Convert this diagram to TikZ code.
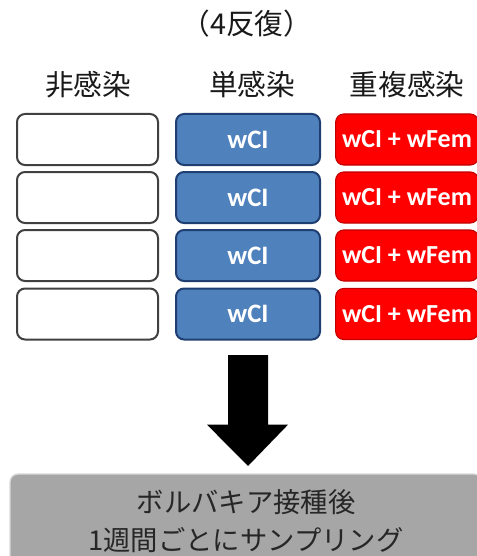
\documentclass[tikz,border=0pt]{standalone}
\usepackage{fontspec}
\newfontfamily\jp{Noto Sans CJK JP}
\newfontfamily\lat{Carlito}
\definecolor{blueF}{HTML}{4F81BD}
\definecolor{blueD}{HTML}{1F3F73}
\definecolor{redF}{HTML}{FF0000}
\definecolor{redD}{HTML}{C00000}
\definecolor{grayF}{HTML}{A6A6A6}
\definecolor{grayD}{HTML}{404040}
\begin{document}
\begin{tikzpicture}[x=0.75pt,y=-0.75pt,
  cell/.style={rounded corners=6pt, minimum height=38.25pt, inner sep=0pt, line width=1.5pt},
  nonebox/.style={cell, draw=grayD, fill=white, minimum width=105.75pt},
  singlebox/.style={cell, draw=blueD, fill=blueF, minimum width=108pt, text=white, font=\lat\bfseries\fontsize{20}{24}\selectfont},
  doublebox/.style={cell, draw=redD, line width=0.8pt, fill=redF, minimum width=107pt, text=white, font=\lat\bfseries\fontsize{19.5}{24}\selectfont},
  head/.style={font=\jp\fontsize{21.5}{25}\selectfont, text=black!90},
  bottombox/.style={rounded corners=6pt, draw=gray!30, line width=1pt, fill=grayF, minimum width=354pt, minimum height=70.5pt, align=center, font=\jp\fontsize{20.5}{29}\selectfont, text=black!85}
]
\useasboundingbox (0,0) rectangle (477,556);
\clip (0,0) rectangle (477,556);
\node[font=\jp\fontsize{21.5}{25}\selectfont, text=black!90] (title) at (247,24) {（4反復）};
\node[head] (h1) at (88,85) {非感染};
\node[head] (h2) at (252,85) {単感染};
\node[head] (h3) at (407,85) {重複感染};
\foreach \i/\y in {1/139.5,2/197.5,3/255.5,4/314}{
  \node[nonebox] (n\i) at (87.5,\y) {};
  \node[singlebox] (s\i) at (248,\y) {wCI};
  \node[doublebox] (d\i) at (407,\y) {wCI + wFem};
}
\coordinate (atop) at (248,355);
\coordinate (atip) at (248,466);
\fill[black] ([xshift=-15pt]atop) -- ([xshift=15pt]atop) -- ([xshift=15pt,yshift=31pt]atip) -- ([xshift=30pt,yshift=31pt]atip) -- (atip) -- ([xshift=-30.75pt,yshift=31pt]atip) -- ([xshift=-15pt,yshift=31pt]atip) -- cycle;
\node[bottombox] (sample) at (246,521) {ボルバキア接種後\\1週間ごとにサンプリング};
\end{tikzpicture}
\end{document}
